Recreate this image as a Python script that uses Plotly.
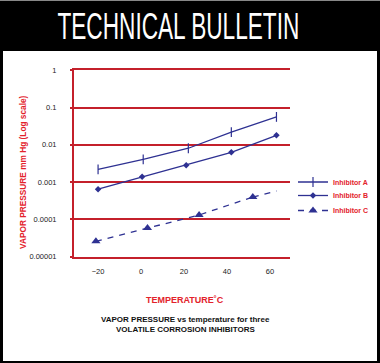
import plotly.graph_objects as go

# ---- data ----
temp_a = [-20, 1, 22, 42, 63]
vp_a = [0.0022, 0.0041, 0.0081, 0.022, 0.056]
temp_b = [-20, 0.5, 21, 42, 63]
vp_b = [0.00065, 0.00139, 0.00285, 0.0063, 0.018]
temp_c = [-21, 3, 27, 52, 63]
vp_c = [0.000026, 0.000059, 0.000132, 0.0004, 0.00058]
c_marked_points = 4  # the last point of C is a bare line end, no marker
series_names = ["Inhibitor A", "Inhibitor B", "Inhibitor C"]
x_ticks = [-20, 0, 20, 40, 60]
y_tickvals = [1, 0.1, 0.01, 0.001, 0.0001, 0.00001]
y_ticktext = ["1", "0.1", "0.01", "0.001", "0.0001", "0.00001"]

W, H = 380, 363
L, R, T, B = 74, 90, 70, 106
PW, PH = W - L - R, H - T - B


def px_x(px):
    return (px - L) / PW


def px_y(py):
    return (H - B - py) / PH


BLUE = "#2e3192"
RED_LINE = "#c4202b"
RED_TEXT = "#e3222b"
FONT = "Liberation Sans, Arial, sans-serif"

fig = go.Figure()
fig.add_trace(go.Scatter(
    x=temp_a, y=vp_a, name=series_names[0], mode="lines+markers",
    legend="legend",
    line=dict(color=BLUE, width=1.3),
    marker=dict(symbol="line-ns", size=7, line=dict(color=BLUE, width=1.2)),
))
fig.add_trace(go.Scatter(
    x=temp_b, y=vp_b, name=series_names[1], mode="lines+markers",
    legend="legend2",
    line=dict(color=BLUE, width=1.3),
    marker=dict(symbol="diamond", size=5, color=BLUE),
))
fig.add_trace(go.Scatter(
    x=temp_c[:c_marked_points], y=vp_c[:c_marked_points], name=series_names[2],
    mode="lines+markers", legend="legend3",
    line=dict(color=BLUE, width=1.3, dash="6px,6px"),
    marker=dict(symbol="triangle-up", size=8, color=BLUE),
))
fig.add_trace(go.Scatter(
    x=temp_c[c_marked_points - 1:], y=vp_c[c_marked_points - 1:],
    name=series_names[2], mode="lines", showlegend=False,
    line=dict(color=BLUE, width=1.3, dash="6px,6px"),
))


def frame_rect(x0, y0, x1, y1, color):
    return dict(type="rect", xref="paper", yref="paper",
                x0=px_x(x0), x1=px_x(x1), y0=px_y(y0), y1=px_y(y1),
                fillcolor=color, line=dict(width=0), layer="below")


shapes = [
    frame_rect(0, 0, 380, 51, "black"),      # header band
    frame_rect(0, 0, 3, 363, "black"),       # left edge
    frame_rect(377, 0, 380, 363, "black"),   # right edge
    frame_rect(0, 361, 380, 363, "black"),   # bottom edge
    frame_rect(0, 0, 380, 1, "#888888"),     # thin top line
]

annotations = [
    dict(text="TECHNICAL BULLETIN", xref="paper", yref="paper",
         x=px_x(178.5), y=px_y(27), xanchor="center", yanchor="middle",
         showarrow=False,
         font=dict(family="Liberation Sans, Arial, sans-serif",
                   size=36, color="white")),
    dict(text="<b>VAPOR PRESSURE mm Hg (Log scale)</b>", xref="paper", yref="paper",
         x=px_x(22.5), y=px_y(172.5), xanchor="center", yanchor="middle",
         textangle=-90, showarrow=False,
         font=dict(family=FONT, size=8.3, color=RED_TEXT)),
    dict(text="<b>TEMPERATURE˚C</b>", xref="paper", yref="paper",
         x=px_x(185), y=px_y(300), xanchor="center", yanchor="middle",
         showarrow=False, font=dict(family=FONT, size=9, color=RED_TEXT)),
    dict(text="<b>VAPOR PRESSURE vs temperature for three</b>", xref="paper", yref="paper",
         x=px_x(185), y=px_y(319), xanchor="center", yanchor="middle",
         showarrow=False, font=dict(family=FONT, size=8, color="#111111")),
    dict(text="<b>VOLATILE CORROSION INHIBITORS</b>", xref="paper", yref="paper",
         x=px_x(185), y=px_y(329), xanchor="center", yanchor="middle",
         showarrow=False, font=dict(family=FONT, size=8, color="#111111")),
]

legend_font = dict(family=FONT, size=7, color=RED_TEXT, weight="bold")
legend_common = dict(x=px_x(293), xanchor="left", yanchor="middle",
                     bgcolor="rgba(0,0,0,0)", font=legend_font, itemwidth=30)

fig.update_layout(
    width=W, height=H,
    margin=dict(l=L, r=R, t=T, b=B, pad=0, autoexpand=False),
    paper_bgcolor="white",
    plot_bgcolor="rgba(0,0,0,0)",
    showlegend=True,
    legend=dict(y=px_y(182), **legend_common),
    legend2=dict(y=px_y(195.5), **legend_common),
    legend3=dict(y=px_y(210.5), **legend_common),
    shapes=shapes,
    annotations=annotations,
    xaxis=dict(range=[-31.2, 69.3], tickvals=x_ticks, showgrid=False,
               zeroline=False, showline=True, mirror=True,
               linecolor=RED_LINE, linewidth=2,
               ticks="", ticklabelstandoff=6,
               tickfont=dict(family=FONT, size=7.5, color="#222222")),
    yaxis=dict(type="log", range=[-5.005, 0.005], tickvals=y_tickvals,
               ticktext=y_ticktext, showgrid=True, gridcolor=RED_LINE,
               gridwidth=2, zeroline=False, showline=True, linecolor=RED_LINE,
               linewidth=2, ticks="outside", ticklen=2, tickcolor=RED_LINE,
               tickwidth=2, ticklabelstandoff=12,
               tickfont=dict(family=FONT, size=7.5, color="#222222")),
)

post_js = """
document.body.style.margin = '0';
document.body.style.padding = '0';
document.body.style.overflow = 'hidden';
var gd = document.getElementById('{plot_id}');
function squeezeTitle() {
  var t = gd.querySelector('.annotation[data-index="0"] text.annotation-text');
  if (!t) return;
  t.removeAttribute('transform');
  var bb = t.getBBox();
  if (!bb.width) return;
  var s = 242 / bb.width;
  var cx = bb.x + bb.width / 2;
  t.setAttribute('transform', 'translate(' + cx + ',0) scale(' + s + ',1) translate(' + (-cx) + ',0)');
}
squeezeTitle();
if (gd.on) { gd.on('plotly_afterplot', squeezeTitle); }
setTimeout(squeezeTitle, 50);
setTimeout(squeezeTitle, 300);
"""

fig.write_html("out.html", post_script=post_js,
               config={"displayModeBar": False, "staticPlot": True})
